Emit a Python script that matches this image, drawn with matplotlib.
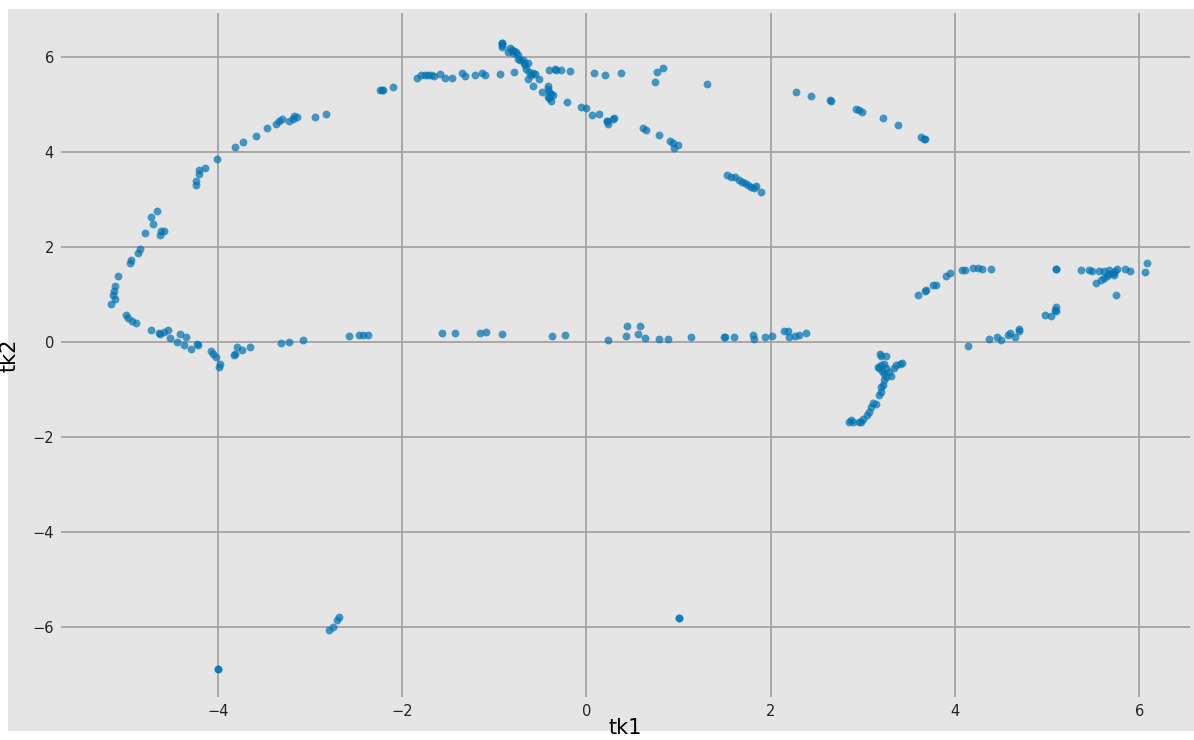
import matplotlib
matplotlib.use("Agg")
import matplotlib.pyplot as plt
from matplotlib.patches import Rectangle
import numpy as np

# tk1 / tk2 coordinates, grouped by branch
arc_x = [-2.24, -2.21, -2.22, -2.10, -2.83, -2.94, -3.14, -3.17, -3.18, -3.23, -3.30, -3.34, -3.37,
         -3.47, -3.58, -3.73, -3.81, -4.01, -4.14, -4.20, -4.20, -4.23, -4.23, -4.66, -4.72, -4.70,
         -4.58, -4.61, -4.63, -4.79, -4.84, -4.86, -4.94, -4.95, -5.08, -5.11, -5.13, -5.14, -5.11,
         -5.16, -4.99, -4.97, -4.93, -4.89, -4.72, -4.64, -4.63, -4.58, -4.54, -4.52, -4.44, -4.41,
         -4.34, -4.36, -4.29, -4.22, -4.21, -4.07, -4.05, -4.02, -3.98, -3.99, -3.79, -3.74, -3.65,
         -3.82, -3.81, -3.31, -3.23, -3.07, -2.58, -2.47, -2.42, -2.37]
arc_y = [5.31, 5.31, 5.31, 5.37, 4.80, 4.73, 4.73, 4.76, 4.69, 4.66, 4.69, 4.65, 4.60,
         4.51, 4.34, 4.21, 4.11, 3.86, 3.66, 3.62, 3.55, 3.39, 3.31, 2.76, 2.63, 2.49,
         2.35, 2.35, 2.25, 2.29, 1.97, 1.87, 1.73, 1.67, 1.40, 1.18, 1.07, 0.99, 0.90,
         0.80, 0.57, 0.50, 0.45, 0.40, 0.25, 0.20, 0.18, 0.22, 0.25, 0.08, 0.01, 0.18,
         0.11, -0.07, -0.14, -0.04, -0.07, -0.18, -0.25, -0.32, -0.47, -0.52, -0.11, -0.17, -0.10,
         -0.26, -0.24, -0.01, 0.01, 0.04, 0.13, 0.16, 0.16, 0.16]

top_x = [-1.84, -1.79, -1.75, -1.72, -1.68, -1.65, -1.59, -1.53, -1.46, -1.35, -1.32, -1.21, -1.13,
         -1.10, -0.94, -0.79, -0.92, -0.92, -0.92, -0.91, -0.83, -0.81, -0.78, -0.76, -0.85, -0.80,
         -0.74, -0.74, -0.72, -0.69, -0.68, -0.63, -0.67, -0.65, -0.62, -0.58, -0.56, -0.60, -0.63,
         -0.58, -0.51, -0.48, -0.42, -0.42, -0.40, -0.38, -0.36, -0.40, -0.38, -0.42, -0.41, -0.34,
         -0.33, -0.28, -0.18, -0.21, -0.06, 0.00, 0.06, 0.14, 0.22, 0.22, 0.24, 0.30, 0.29,
         0.08, 0.20, 0.38, 0.75, 0.77, 0.83, 1.31, 0.61, 0.65, 0.79, 0.91, 0.94, 1.00, 0.95]
top_y = [5.57, 5.62, 5.62, 5.62, 5.62, 5.60, 5.64, 5.57, 5.57, 5.66, 5.60, 5.62, 5.66,
         5.62, 5.64, 5.68, 6.30, 6.30, 6.25, 6.22, 6.20, 6.15, 6.13, 6.10, 6.11, 6.08,
         6.04, 5.97, 5.94, 5.95, 5.88, 5.87, 5.83, 5.76, 5.69, 5.67, 5.64, 5.62, 5.53,
         5.40, 5.53, 5.26, 5.39, 5.34, 5.27, 5.22, 5.20, 5.15, 5.08, 5.16, 5.73, 5.76,
         5.73, 5.73, 5.71, 5.06, 4.95, 4.93, 4.78, 4.80, 4.66, 4.66, 4.60, 4.72, 4.69,
         5.66, 5.62, 5.66, 5.48, 5.69, 5.78, 5.43, 4.50, 4.46, 4.36, 4.24, 4.20, 4.15, 4.08]

mid_x = [1.53, 1.57, 1.61, 1.66, 1.69, 1.72, 1.75, 1.79, 1.82, 1.84, 1.89,
         2.27, 2.44, 2.64, 2.65, 2.93, 2.96, 2.99, 3.22, 3.38, 3.63, 3.66, 3.68]
mid_y = [3.52, 3.48, 3.47, 3.41, 3.38, 3.35, 3.31, 3.27, 3.24, 3.28, 3.16,
         5.26, 5.18, 5.09, 5.08, 4.91, 4.88, 4.85, 4.71, 4.58, 4.31, 4.27, 4.27]

flat_x = [-1.57, -1.43, -1.15, -1.09, -0.91, -0.37, -0.23, 0.23, 0.43, 0.44, 0.56, 0.58, 0.64,
          0.79, 0.89, 1.14, 1.49, 1.50, 1.60, 1.81, 1.82, 1.94, 2.01, 2.14, 2.19, 2.20, 2.26,
          2.31, 2.38]
flat_y = [0.20, 0.20, 0.20, 0.22, 0.18, 0.13, 0.15, 0.05, 0.13, 0.33, 0.17, 0.34, 0.08,
          0.07, 0.07, 0.11, 0.11, 0.11, 0.11, 0.16, 0.07, 0.11, 0.13, 0.23, 0.23, 0.11, 0.13,
          0.16, 0.20]

right_x = [3.60, 3.67, 3.69, 3.76, 3.79, 3.90, 3.95, 4.08, 4.11, 4.20, 4.25, 4.29, 4.39,
           5.10, 5.10, 5.37, 5.45, 5.49, 5.56, 5.62, 5.67, 5.76, 5.84, 5.90, 5.53, 5.58, 5.62,
           5.65, 5.67, 5.71, 5.74, 5.73, 5.75, 6.08, 6.06, 4.14, 4.37, 4.46, 4.50, 4.57, 4.60,
           4.65, 4.69, 4.70, 4.98, 5.04, 5.10, 5.10, 5.08]
right_y = [1.00, 1.08, 1.09, 1.20, 1.20, 1.39, 1.45, 1.52, 1.52, 1.57, 1.57, 1.54, 1.54,
           1.54, 1.54, 1.52, 1.52, 1.49, 1.49, 1.49, 1.52, 1.53, 1.55, 1.49, 1.25, 1.31, 1.36,
           1.39, 1.43, 1.46, 1.49, 1.41, 1.00, 1.66, 1.47, -0.08, 0.06, 0.10, 0.04, 0.15, 0.20,
           0.11, 0.27, 0.23, 0.58, 0.55, 0.65, 0.73, 0.67]

hook_x = [3.19, 3.20, 3.25, 3.16, 3.20, 3.23, 3.18, 3.25, 3.23, 3.25, 3.31, 3.23, 3.22, 3.20,
          3.20, 3.18, 3.11, 3.14, 3.09, 3.07, 3.04, 3.00, 2.98, 2.96, 2.87, 2.85, 2.89, 3.36,
          3.40, 3.43, 3.34, 3.28, 3.21]
hook_y = [-0.24, -0.29, -0.29, -0.52, -0.48, -0.45, -0.55, -0.55, -0.66, -0.73, -0.72, -0.80,
          -0.91, -0.94, -1.05, -1.12, -1.29, -1.31, -1.36, -1.47, -1.54, -1.61, -1.69, -1.68,
          -1.64, -1.68, -1.68, -0.48, -0.45, -0.44, -0.55, -0.62, -0.60]

low_x = [-2.79, -2.75, -2.71, -2.68, -4.00, -4.00, 1.01, 1.01]
low_y = [-6.06, -6.00, -5.85, -5.79, -6.88, -6.88, -5.81, -5.81]

tk1 = np.concatenate([arc_x, top_x, mid_x, flat_x, right_x, hook_x, low_x])
tk2 = np.concatenate([arc_y, top_y, mid_y, flat_y, right_y, hook_y, low_y])

BG = "#e5e5e5"

fig = plt.figure(figsize=(11.94, 7.40), dpi=100, facecolor="white")
# grey panel with a thin white border, as in the screenshot
fig.patches.append(Rectangle((8 / 1194, 9 / 740), 1 - 8 / 1194, 1 - 18 / 740,
                             transform=fig.transFigure, facecolor=BG, edgecolor="none",
                             zorder=-10))
ax = fig.add_axes([61 / 1194, 43 / 740, 1129 / 1194, 684 / 740])
ax.set_facecolor(BG)

ax.scatter(tk1, tk2, s=32, color="#0072B2", alpha=0.7, linewidths=0, zorder=3)

ax.set_xlim(-5.70, 6.55)
ax.set_ylim(-7.47, 6.93)
ax.set_xticks([-4, -2, 0, 2, 4, 6])
ax.set_yticks([-6, -4, -2, 0, 2, 4, 6])
ax.grid(True, color="#a3a3a3", linewidth=1.3, zorder=0)
ax.set_axisbelow(True)
for sp in ax.spines.values():
    sp.set_visible(False)
ax.tick_params(length=0, labelsize=10.5, pad=5, colors="#222222")

ax.set_xlabel("tk1", fontsize=15)
ax.set_ylabel("tk2", fontsize=15)
ax.xaxis.set_label_coords(0.5, -0.031)
ax.yaxis.set_label_coords(-0.037, 0.5)

fig.savefig("out.png", dpi=100, facecolor=fig.get_facecolor())
